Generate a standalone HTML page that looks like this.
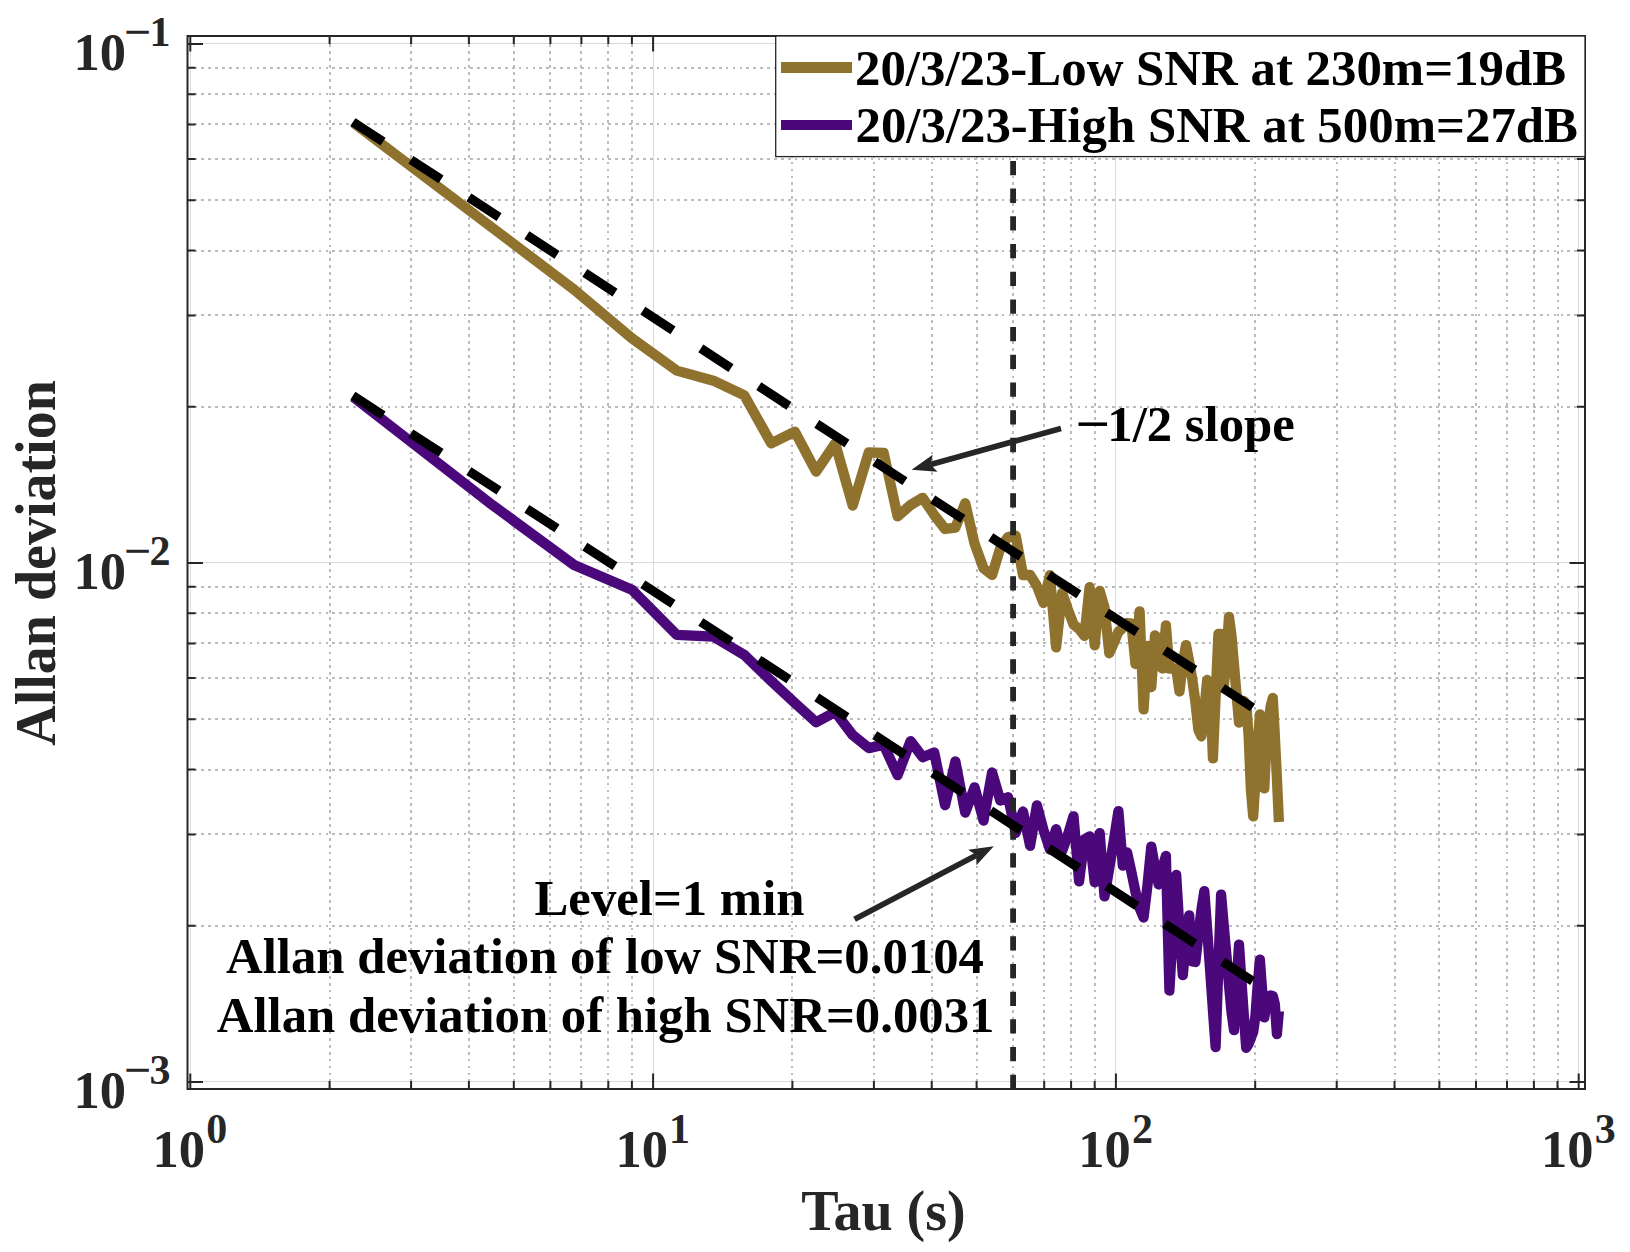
<!DOCTYPE html>
<html lang="en"><head><meta charset="utf-8"><title>Allan deviation</title>
<style>html,body{margin:0;padding:0;background:#fff}body{width:1630px;height:1252px;overflow:hidden}svg{display:block}text{font-family:"Liberation Serif","Times New Roman",serif;font-weight:bold}</style></head><body>
<svg width="1630" height="1252" viewBox="0 0 1630 1252">
<rect width="1630" height="1252" fill="#fff"/>
<g stroke="#bcbcbc" stroke-width="2" stroke-dasharray="2.7 4.2" fill="none" shape-rendering="crispEdges">
<line x1="329.6" y1="1089.0" x2="329.6" y2="36.0"/>
<line x1="411.1" y1="1089.0" x2="411.1" y2="36.0"/>
<line x1="468.9" y1="1089.0" x2="468.9" y2="36.0"/>
<line x1="513.8" y1="1089.0" x2="513.8" y2="36.0"/>
<line x1="550.4" y1="1089.0" x2="550.4" y2="36.0"/>
<line x1="581.4" y1="1089.0" x2="581.4" y2="36.0"/>
<line x1="608.3" y1="1089.0" x2="608.3" y2="36.0"/>
<line x1="631.9" y1="1089.0" x2="631.9" y2="36.0"/>
<line x1="792.4" y1="1089.0" x2="792.4" y2="36.0"/>
<line x1="873.9" y1="1089.0" x2="873.9" y2="36.0"/>
<line x1="931.7" y1="1089.0" x2="931.7" y2="36.0"/>
<line x1="976.6" y1="1089.0" x2="976.6" y2="36.0"/>
<line x1="1013.2" y1="1089.0" x2="1013.2" y2="36.0"/>
<line x1="1044.2" y1="1089.0" x2="1044.2" y2="36.0"/>
<line x1="1071.1" y1="1089.0" x2="1071.1" y2="36.0"/>
<line x1="1094.7" y1="1089.0" x2="1094.7" y2="36.0"/>
<line x1="1255.2" y1="1089.0" x2="1255.2" y2="36.0"/>
<line x1="1336.7" y1="1089.0" x2="1336.7" y2="36.0"/>
<line x1="1394.5" y1="1089.0" x2="1394.5" y2="36.0"/>
<line x1="1439.4" y1="1089.0" x2="1439.4" y2="36.0"/>
<line x1="1476.0" y1="1089.0" x2="1476.0" y2="36.0"/>
<line x1="1507.0" y1="1089.0" x2="1507.0" y2="36.0"/>
<line x1="1533.9" y1="1089.0" x2="1533.9" y2="36.0"/>
<line x1="1557.5" y1="1089.0" x2="1557.5" y2="36.0"/>
<line x1="187.5" y1="925.8" x2="1585.0" y2="925.8"/>
<line x1="187.5" y1="834.4" x2="1585.0" y2="834.4"/>
<line x1="187.5" y1="769.5" x2="1585.0" y2="769.5"/>
<line x1="187.5" y1="719.2" x2="1585.0" y2="719.2"/>
<line x1="187.5" y1="678.1" x2="1585.0" y2="678.1"/>
<line x1="187.5" y1="643.4" x2="1585.0" y2="643.4"/>
<line x1="187.5" y1="613.3" x2="1585.0" y2="613.3"/>
<line x1="187.5" y1="586.7" x2="1585.0" y2="586.7"/>
<line x1="187.5" y1="406.8" x2="1585.0" y2="406.8"/>
<line x1="187.5" y1="315.4" x2="1585.0" y2="315.4"/>
<line x1="187.5" y1="250.5" x2="1585.0" y2="250.5"/>
<line x1="187.5" y1="200.2" x2="1585.0" y2="200.2"/>
<line x1="187.5" y1="159.1" x2="1585.0" y2="159.1"/>
<line x1="187.5" y1="124.4" x2="1585.0" y2="124.4"/>
<line x1="187.5" y1="94.3" x2="1585.0" y2="94.3"/>
<line x1="187.5" y1="67.7" x2="1585.0" y2="67.7"/>
</g>
<g stroke="#dadada" stroke-width="1" fill="none" shape-rendering="crispEdges">
<line x1="190.3" y1="1089.0" x2="190.3" y2="36.0"/>
<line x1="653.1" y1="1089.0" x2="653.1" y2="36.0"/>
<line x1="1115.9" y1="1089.0" x2="1115.9" y2="36.0"/>
<line x1="1578.7" y1="1089.0" x2="1578.7" y2="36.0"/>
<line x1="187.5" y1="43.5" x2="1585.0" y2="43.5"/>
<line x1="187.5" y1="562.5" x2="1585.0" y2="562.5"/>
<line x1="187.5" y1="1081.5" x2="1585.0" y2="1081.5"/>
</g>
<polyline points="353.3,122.6 492.6,228.0 574.1,289.6 631.9,338.3 676.8,370.6 713.4,380.7 744.4,395.4 771.2,443.3 794.9,431.6 816.1,471.6 835.2,443.5 852.7,505.5 868.8,452.3 883.7,453.0 897.6,516.3 910.6,505.0 922.7,497.8 934.2,515.0 945.1,529.0 955.4,527.6 965.2,503.2 974.6,543.8 983.5,568.3 992.1,575.0 1000.3,548.0 1008.1,537.0 1015.7,535.7 1023.0,575.0 1030.1,575.0 1036.9,586.0 1043.5,603.0 1049.9,575.2 1056.1,647.4 1062.1,592.7 1067.9,609.5 1073.5,624.4 1079.1,629.0 1084.4,636.0 1089.6,587.2 1094.7,645.4 1099.7,591.0 1104.5,607.5 1109.3,653.3 1113.9,642.6 1118.4,631.7 1122.8,628.0 1127.1,623.0 1131.4,623.6 1135.5,664.0 1139.6,611.3 1143.6,709.4 1147.5,646.0 1151.3,687.0 1155.0,635.4 1158.7,639.0 1162.4,668.5 1165.9,625.3 1169.4,668.5 1172.8,668.5 1176.2,668.3 1179.5,691.5 1182.8,663.0 1186.0,645.1 1189.2,661.6 1192.3,679.5 1195.4,702.0 1198.4,730.0 1201.4,736.3 1204.3,710.0 1207.2,680.0 1210.1,684.0 1212.9,758.4 1215.6,697.0 1218.4,634.0 1221.1,634.0 1223.7,688.0 1226.4,655.0 1229.0,616.9 1231.5,636.0 1234.0,665.0 1236.5,694.0 1239.0,722.6 1241.4,712.0 1243.8,701.0 1246.2,704.0 1248.6,735.0 1250.9,790.0 1253.2,816.3 1255.5,780.0 1257.7,745.0 1259.9,714.5 1262.1,755.0 1264.3,788.3 1266.5,742.0 1268.6,722.0 1270.7,706.0 1272.8,698.0 1274.8,735.0 1276.9,778.0 1278.9,822.0" fill="none" stroke="#8f722e" stroke-width="10.3" stroke-linejoin="round"/>
<polyline points="353.3,397.0 492.6,505.2 574.1,565.0 631.9,589.7 676.8,634.8 713.4,636.6 744.4,655.0 771.2,681.0 794.9,703.0 816.1,722.2 835.2,712.0 852.7,735.1 868.8,748.1 883.7,744.8 897.6,775.2 910.6,741.1 922.7,757.2 934.2,752.4 945.1,805.1 955.4,761.5 965.2,812.6 974.6,787.3 983.5,820.5 992.1,772.5 1000.3,800.5 1008.1,797.2 1015.7,832.9 1023.0,811.5 1030.1,845.8 1036.9,805.4 1043.5,830.0 1049.9,849.3 1056.1,829.2 1062.1,851.0 1067.9,835.0 1073.5,816.3 1079.1,881.3 1084.4,839.5 1089.6,836.3 1094.7,882.3 1099.7,833.2 1104.5,896.3 1109.3,868.0 1113.9,840.0 1118.4,811.2 1122.8,865.6 1127.1,852.3 1131.4,872.0 1135.5,892.0 1139.6,908.0 1143.6,917.5 1147.5,885.0 1151.3,846.6 1155.0,868.0 1158.7,884.5 1162.4,868.0 1165.9,856.0 1169.4,990.6 1172.8,930.0 1176.2,875.0 1179.5,930.0 1182.8,975.0 1186.0,940.0 1189.2,915.4 1192.3,961.5 1195.4,962.0 1198.4,935.0 1201.4,910.0 1204.3,891.2 1207.2,930.0 1210.1,970.0 1212.9,1010.0 1215.6,1047.0 1218.4,965.0 1221.1,894.6 1223.7,925.0 1226.4,955.0 1229.0,985.0 1231.5,1012.0 1234.0,1030.1 1236.5,985.0 1239.0,944.7 1241.4,980.0 1243.8,1015.0 1246.2,1047.8 1248.6,1044.0 1250.9,1038.0 1253.2,1032.0 1255.5,1015.0 1257.7,985.0 1259.9,959.7 1262.1,990.0 1264.3,1017.4 1266.5,1003.0 1268.6,996.5 1270.7,995.5 1272.8,996.0 1274.8,1004.0 1276.9,1034.0 1278.9,1011.0" fill="none" stroke="#4b087b" stroke-width="10.3" stroke-linejoin="round"/>
<line x1="1013.1" y1="1089.0" x2="1013.1" y2="36.0" stroke="#262626" stroke-width="5.8" stroke-dasharray="14.3 13.39"/>
<line x1="352.9" y1="122.0" x2="1252.6" y2="707.5" stroke="#000" stroke-width="9.2" stroke-dasharray="36 33.18"/>
<line x1="352.9" y1="395.6" x2="1252.6" y2="981.1" stroke="#000" stroke-width="9.2" stroke-dasharray="36 33.18"/>
<g stroke="#262626" stroke-width="2" fill="none">
<path d="M329.6 1089.0v-8M329.6 36.0v8"/>
<path d="M411.1 1089.0v-8M411.1 36.0v8"/>
<path d="M468.9 1089.0v-8M468.9 36.0v8"/>
<path d="M513.8 1089.0v-8M513.8 36.0v8"/>
<path d="M550.4 1089.0v-8M550.4 36.0v8"/>
<path d="M581.4 1089.0v-8M581.4 36.0v8"/>
<path d="M608.3 1089.0v-8M608.3 36.0v8"/>
<path d="M631.9 1089.0v-8M631.9 36.0v8"/>
<path d="M792.4 1089.0v-8M792.4 36.0v8"/>
<path d="M873.9 1089.0v-8M873.9 36.0v8"/>
<path d="M931.7 1089.0v-8M931.7 36.0v8"/>
<path d="M976.6 1089.0v-8M976.6 36.0v8"/>
<path d="M1013.2 1089.0v-8M1013.2 36.0v8"/>
<path d="M1044.2 1089.0v-8M1044.2 36.0v8"/>
<path d="M1071.1 1089.0v-8M1071.1 36.0v8"/>
<path d="M1094.7 1089.0v-8M1094.7 36.0v8"/>
<path d="M1255.2 1089.0v-8M1255.2 36.0v8"/>
<path d="M1336.7 1089.0v-8M1336.7 36.0v8"/>
<path d="M1394.5 1089.0v-8M1394.5 36.0v8"/>
<path d="M1439.4 1089.0v-8M1439.4 36.0v8"/>
<path d="M1476.0 1089.0v-8M1476.0 36.0v8"/>
<path d="M1507.0 1089.0v-8M1507.0 36.0v8"/>
<path d="M1533.9 1089.0v-8M1533.9 36.0v8"/>
<path d="M1557.5 1089.0v-8M1557.5 36.0v8"/>
<path d="M190.3 1089.0v-15.5M190.3 36.0v15.5"/>
<path d="M653.1 1089.0v-15.5M653.1 36.0v15.5"/>
<path d="M1115.9 1089.0v-15.5M1115.9 36.0v15.5"/>
<path d="M1578.7 1089.0v-15.5M1578.7 36.0v15.5"/>
<path d="M187.5 925.8h8M1585.0 925.8h-8"/>
<path d="M187.5 834.4h8M1585.0 834.4h-8"/>
<path d="M187.5 769.5h8M1585.0 769.5h-8"/>
<path d="M187.5 719.2h8M1585.0 719.2h-8"/>
<path d="M187.5 678.1h8M1585.0 678.1h-8"/>
<path d="M187.5 643.4h8M1585.0 643.4h-8"/>
<path d="M187.5 613.3h8M1585.0 613.3h-8"/>
<path d="M187.5 586.7h8M1585.0 586.7h-8"/>
<path d="M187.5 406.8h8M1585.0 406.8h-8"/>
<path d="M187.5 315.4h8M1585.0 315.4h-8"/>
<path d="M187.5 250.5h8M1585.0 250.5h-8"/>
<path d="M187.5 200.2h8M1585.0 200.2h-8"/>
<path d="M187.5 159.1h8M1585.0 159.1h-8"/>
<path d="M187.5 124.4h8M1585.0 124.4h-8"/>
<path d="M187.5 94.3h8M1585.0 94.3h-8"/>
<path d="M187.5 67.7h8M1585.0 67.7h-8"/>
<path d="M187.5 44.0h15.5M1585.0 44.0h-15.5"/>
<path d="M187.5 563.0h15.5M1585.0 563.0h-15.5"/>
<path d="M187.5 1082.0h15.5M1585.0 1082.0h-15.5"/>
<rect x="187.5" y="36.0" width="1397.5" height="1053.0"/>
</g>
<g fill="#262626" font-size="52.5">
<text x="126" y="69.7" text-anchor="end">10</text><text x="124.1" y="45.6" font-size="42" textLength="27.5" lengthAdjust="spacingAndGlyphs">−</text><text x="149.4" y="45.6" font-size="42">1</text>
<text x="126" y="588.7" text-anchor="end">10</text><text x="124.1" y="564.6" font-size="42" textLength="27.5" lengthAdjust="spacingAndGlyphs">−</text><text x="149.4" y="564.6" font-size="42">2</text>
<text x="126" y="1107.7" text-anchor="end">10</text><text x="124.1" y="1083.6" font-size="42" textLength="27.5" lengthAdjust="spacingAndGlyphs">−</text><text x="149.4" y="1083.6" font-size="42">3</text>
<text x="205.1" y="1166.6" text-anchor="end">10</text><text x="206.3" y="1142.6" font-size="42">0</text>
<text x="667.9" y="1166.6" text-anchor="end">10</text><text x="669.1" y="1142.6" font-size="42">1</text>
<text x="1130.7" y="1166.6" text-anchor="end">10</text><text x="1131.9" y="1142.6" font-size="42">2</text>
<text x="1593.5" y="1166.6" text-anchor="end">10</text><text x="1594.7" y="1142.6" font-size="42">3</text>
</g>
<text x="883.5" y="1230" font-size="56" fill="#262626" text-anchor="middle">Tau (s)</text>
<text transform="translate(54.7,563) rotate(-90)" font-size="56" fill="#262626" text-anchor="middle">Allan deviation</text>
<rect x="775.7" y="36" width="809.3" height="120.6" fill="#fff" stroke="#262626" stroke-width="1.3"/>
<line x1="781" y1="67.5" x2="852" y2="67.5" stroke="#8f722e" stroke-width="10.8"/>
<line x1="781" y1="125" x2="852" y2="125" stroke="#4b087b" stroke-width="10"/>
<g fill="#000" font-size="50.85"><text x="855" y="85">20/3/23-Low SNR at 230m=19dB</text><text x="855.5" y="142">20/3/23-High SNR at 500m=27dB</text></g>
<g fill="#000" font-size="50.75">
<text x="1075.5" y="441.3" textLength="35" lengthAdjust="spacingAndGlyphs">−</text><text x="1107.3" y="441.3">1/2 slope</text>
<text x="534.5" y="914.6">Level=1 min</text>
<text x="605" y="973.4" text-anchor="middle">Allan deviation of low SNR=0.0104</text>
<text x="605.6" y="1032.1" text-anchor="middle">Allan deviation of high SNR=0.0031</text>
</g>
<line x1="1061.0" y1="428.4" x2="930.6" y2="464.5" stroke="#262626" stroke-width="5.7"/>
<path d="M911.6 469.7L932.7 454.7L930.6 464.5L937.4 471.7Z" fill="#262626"/>
<line x1="854.6" y1="919.2" x2="976.4" y2="855.3" stroke="#262626" stroke-width="5.7"/>
<path d="M993.8 846.2L976.4 865.3L976.4 855.3L968.2 849.7Z" fill="#262626"/>
</svg></body></html>
